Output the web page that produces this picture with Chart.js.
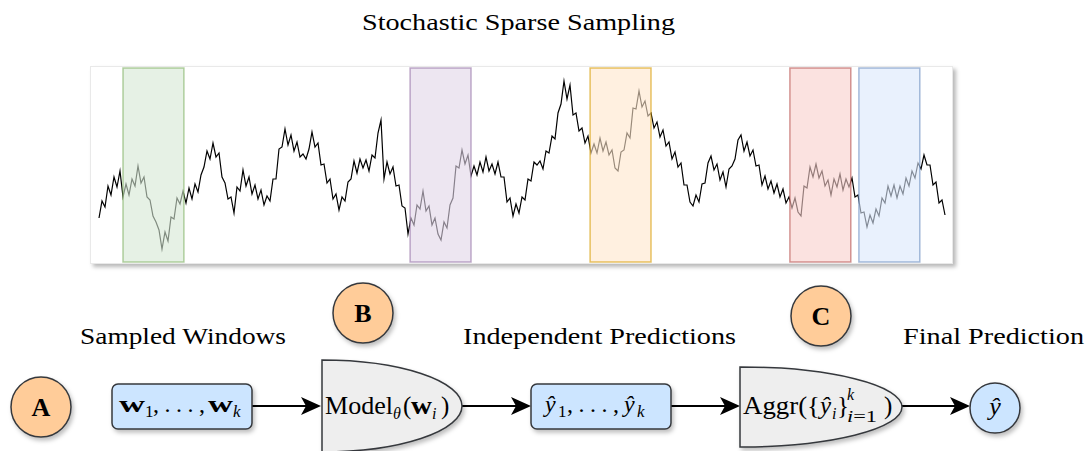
<!DOCTYPE html>
<html>
<head>
<meta charset="utf-8">
<script src="https://cdn.jsdelivr.net/npm/chart.js@4.4.1/dist/chart.umd.min.js"></script>
<style>
  html, body { margin: 0; padding: 0; background: #fff; }
  body { width: 1087px; height: 451px; position: relative; overflow: hidden; }
  #diagram { position: absolute; left: 0; top: 0; }
  #plot {
    position: absolute; left: 90px; top: 66px; width: 861px; height: 196px;
    background: #fff; border: 1px solid #e9e9e9;
    box-shadow: 3px 3px 4px rgba(0,0,0,0.28);
  }
  svg text { font-family: 'Liberation Serif', 'Times New Roman', serif; fill: #000; }
</style>
</head>
<body>

<svg id="diagram" width="1087" height="451" font-family="'Liberation Serif', serif" xmlns="http://www.w3.org/2000/svg">
  <defs>
    <filter id="sh" x="-20%" y="-20%" width="150%" height="160%">
      <feDropShadow dx="2" dy="3" stdDeviation="2" flood-color="#000" flood-opacity="0.25"/>
    </filter>
  </defs>

  <text x="362" y="30" font-size="24" textLength="313" lengthAdjust="spacingAndGlyphs">Stochastic Sparse Sampling</text>

  <text x="80" y="344" font-size="24" textLength="206" lengthAdjust="spacingAndGlyphs">Sampled Windows</text>
  <text x="463" y="344" font-size="24" textLength="273" lengthAdjust="spacingAndGlyphs">Independent Predictions</text>
  <text x="903" y="344" font-size="24" textLength="181" lengthAdjust="spacingAndGlyphs">Final Prediction</text>

  <!-- arrows -->
  <g stroke="#000" stroke-width="2">
    <line x1="252" y1="406" x2="308" y2="406"/>
    <line x1="462" y1="406" x2="518" y2="406"/>
    <line x1="671" y1="406" x2="727" y2="406"/>
    <line x1="902" y1="406" x2="957" y2="406"/>
  </g>
  <g fill="#000">
    <polygon points="321,406 301,397 306,406 301,415"/>
    <polygon points="531,406 511,397 516,406 511,415"/>
    <polygon points="740,406 720,397 725,406 720,415"/>
    <polygon points="970,406 950,397 955,406 950,415"/>
  </g>

  <!-- shapes -->
  <g stroke="#36393d" stroke-width="1.5" filter="url(#sh)">
    <circle cx="41" cy="407" r="30" fill="#ffcc99"/>
    <circle cx="363" cy="313" r="30" fill="#ffcc99"/>
    <circle cx="821" cy="316" r="30" fill="#ffcc99"/>
    <rect x="112" y="384" width="140" height="45" rx="6" fill="#cce5ff"/>
    <rect x="531" y="384" width="140" height="45" rx="6" fill="#cce5ff"/>
    <path d="M322 360 A140 46 0 0 1 322 452 Z" fill="#eeeeee"/>
    <path d="M740 367 A162 40 0 0 1 740 447 Z" fill="#eeeeee"/>
    <circle cx="995" cy="408" r="25" fill="#cce5ff"/>
  </g>

  <text x="41" y="416" font-size="26" font-weight="bold" text-anchor="middle">A</text>
  <text x="363" y="322" font-size="26" font-weight="bold" text-anchor="middle">B</text>
  <text x="821" y="325" font-size="26" font-weight="bold" text-anchor="middle">C</text>

  <!-- w1, ..., wk -->
  <text x="119" y="412" font-size="24" font-weight="bold" textLength="26" lengthAdjust="spacingAndGlyphs">w</text>
  <text x="145" y="417" font-size="17">1</text>
  <text x="153" y="412" font-size="24" textLength="52" lengthAdjust="spacing">, . . . ,</text>
  <text x="208" y="412" font-size="24" font-weight="bold" textLength="25" lengthAdjust="spacingAndGlyphs">w</text>
  <text x="233" y="417" font-size="17" font-style="italic">k</text>

  <!-- Model_theta(w_i) -->
  <text x="325" y="414" font-size="25" textLength="68" lengthAdjust="spacingAndGlyphs">Model</text>
  <text x="393" y="419" font-size="16" font-style="italic">θ</text>
  <text x="403" y="414" font-size="25">(</text>
  <text x="411" y="414" font-size="25" font-weight="bold" textLength="21" lengthAdjust="spacingAndGlyphs">w</text>
  <text x="432" y="419" font-size="16" font-style="italic">i</text>
  <text x="441" y="414" font-size="25">)</text>

  <!-- y_hat_1, ..., y_hat_k -->
  <text x="545" y="412" font-size="24" font-style="italic">ŷ</text>
  <text x="558" y="417" font-size="17">1</text>
  <text x="567" y="412" font-size="24" textLength="52" lengthAdjust="spacing">, . . . ,</text>
  <text x="624" y="412" font-size="24" font-style="italic">ŷ</text>
  <text x="637" y="417" font-size="17" font-style="italic">k</text>

  <!-- Aggr({y_hat_i}_{i=1}^k) -->
  <text x="743" y="414" font-size="25" textLength="77" lengthAdjust="spacingAndGlyphs">Aggr({</text>
  <text x="820" y="414" font-size="25" font-style="italic">ŷ</text>
  <text x="832" y="419" font-size="16" font-style="italic">i</text>
  <text x="837" y="414" font-size="25">}</text>
  <text x="847" y="400" font-size="16" font-style="italic">k</text>
  <text x="847" y="422" font-size="17" textLength="30" lengthAdjust="spacingAndGlyphs"><tspan font-style="italic">i</tspan>=1</text>
  <text x="884" y="414" font-size="25">)</text>

  <text x="995" y="415" font-size="26" font-style="italic" text-anchor="middle">ŷ</text>
</svg>

<div id="plot"><canvas id="seriesChart"></canvas></div>

<script>
// signal, one sample every ~3 px along the trace
const series = [
  45, 62, 56, 77, 68, 86, 76, 92, 66, 79,
  68, 84, 77, 97, 80, 86, 66, 63, 47, 41,
  33, 14, 31, 22, 46, 44, 65, 59, 72, 60,
  75, 64, 79, 71, 88, 96, 112, 104, 120, 106,
  110, 86, 80, 64, 66, 50, 76, 72, 93, 77,
  86, 69, 78, 64, 73, 58, 67, 62, 84, 84,
  114, 116, 134, 118, 128, 112, 121, 106, 109, 104,
  114, 131, 116, 120, 98, 99, 80, 84, 64, 69,
  53, 66, 62, 81, 84, 102, 90, 104, 95, 103,
  92, 108, 105, 130, 143, 84, 101, 89, 96, 77,
  78, 57, 55, 29, 45, 38, 58, 54, 72, 52,
  57, 38, 45, 29, 23, 41, 35, 58, 65, 97,
  95, 113, 99, 108, 87, 97, 88, 101, 91, 106,
  92, 99, 89, 101, 86, 86, 61, 65, 47, 59,
  50, 66, 63, 84, 82, 101, 98, 102, 94, 112,
  110, 127, 124, 150, 159, 182, 164, 178, 148, 150,
  132, 135, 120, 127, 110, 119, 110, 125, 112, 121,
  108, 113, 95, 92, 111, 113, 130, 125, 155, 154,
  172, 156, 162, 147, 150, 135, 141, 126, 133, 117,
  121, 104, 111, 96, 100, 78, 78, 61, 57, 68,
  61, 79, 80, 100, 107, 93, 99, 83, 91, 76,
  94, 97, 104, 123, 128, 112, 121, 107, 113, 97,
  98, 78, 87, 74, 82, 70, 79, 66, 74, 60,
  66, 55, 65, 51, 47, 77, 75, 96, 86, 99,
  85, 92, 77, 83, 68, 84, 76, 89, 73, 84,
  76, 85, 66, 68, 50, 51, 36, 48, 40, 54,
  47, 65, 60, 77, 67, 78, 65, 77, 69, 85,
  77, 92, 85, 100, 94, 108, 98, 98, 78, 81,
  60, 63, 48
];

// sampled windows (in sample index units)
const windowStart = [8, 103.7, 163.7, 230.3, 253.3];
const windowLength = 20.3;
const windowFill = ['#d5e8d4', '#e1d5e7', '#ffe6cc', '#f8cecc', '#dae8fc'];
const windowStroke = ['#82b366', '#9673a6', '#d79b00', '#b85450', '#6c8ebf'];

// the trace starts 8px in from the frame and ends 7px before it
const step = (945 - 99) / (series.length - 1);
const xMin = -8 / step;
const xMax = series.length - 1 + 7 / step;

const windowsPlugin = {
    id: 'windows',
    afterDatasetsDraw(chart) {
        const { ctx, chartArea } = chart;
        const x = chart.scales.x;
        windowStart.forEach((s, k) => {
            const x0 = x.getPixelForValue(s);
            const x1 = x.getPixelForValue(s + windowLength);
            ctx.save();
            ctx.globalAlpha = 0.6;
            ctx.fillStyle = windowFill[k];
            ctx.fillRect(x0, chartArea.top + 1, x1 - x0, chartArea.bottom - chartArea.top - 2);
            ctx.strokeStyle = windowStroke[k];
            ctx.lineWidth = 1.5;
            ctx.strokeRect(x0, chartArea.top + 1, x1 - x0, chartArea.bottom - chartArea.top - 2);
            ctx.restore();
        });
    }
};

const chart = new Chart(document.getElementById('seriesChart'), {
    type: 'line',
    data: {
        datasets: [{
            data: series.map((v, i) => ({ x: i, y: v })),
            borderColor: '#000',
            borderWidth: 1.2,
            pointRadius: 0,
            tension: 0,
            fill: false
        }]
    },
    options: {
        responsive: true,
        maintainAspectRatio: false,
        animation: false,
        layout: { padding: 0 },
        scales: {
            x: { type: 'linear', display: false, min: xMin, max: xMax },
            y: { display: false, min: 0, max: 196 }
        },
        plugins: {
            legend: { display: false },
            tooltip: { enabled: false }
        }
    },
    plugins: [windowsPlugin]
});
</script>
</body>
</html>
